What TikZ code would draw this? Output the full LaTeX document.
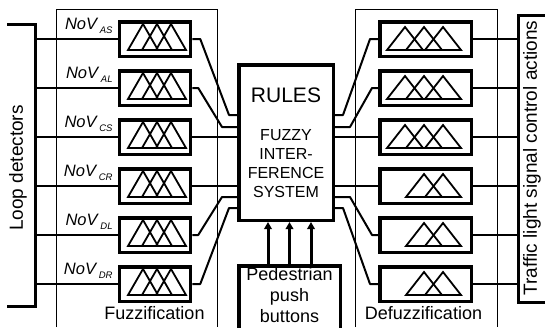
\documentclass[tikz,border=0pt]{standalone}
\usepackage{fontspec}
\setmainfont{Liberation Sans}
\usetikzlibrary{arrows.meta,positioning,calc}

\newcommand\novlabel[1]{{\itshape NoV\,\raisebox{-0.5ex}{\fontsize{9.5}{9.5}\selectfont #1}}}

\begin{document}
\begin{tikzpicture}[x=1pt,y=-1pt,
  fzbox/.style={draw,line width=3.5pt,minimum width=71pt,minimum height=34.5pt,inner sep=0pt},
  dzbox/.style={fzbox,minimum width=91.5pt},
  link/.style={line width=2pt,line join=round},
  bus/.style={line width=3pt},
  tri/.style={line width=1.8pt},
  frame/.style={line width=0.8pt},
  lbl/.style={font=\fontsize{18}{21}\selectfont,inner sep=0pt},
  side/.style={font=\fontsize{19}{21}\selectfont,inner sep=0pt,rotate=90},
  pedarrow/.style={line width=3pt,-{Triangle[length=7pt,width=7.5pt]}}]
\useasboundingbox (0,0) rectangle (545,327);
% ---------- frames and buses ----------
\draw[frame] (56,327) -- (56,9) -- (217,9) -- (217,327);
\draw[frame] (355,327) -- (355,9) -- (497,9) -- (497,327);
\draw[bus] (7,24) -- (35,24) -- (35,306) -- (7,306);
\draw[bus] (545,15) -- (518,15) -- (518,302) -- (545,302);
\coordinate (lbus) at (35,0);
\coordinate (rbus) at (518,0);
\node[side] (loopdet) at (18,168) {Loop detectors};
\node[side] (actions) at (532,158) {Traffic light signal control actions};
\node[lbl] (fuzzlab) at (154.5,313) {Fuzzification};
\node[lbl] (defuzzlab) at (423.5,313) {Defuzzification};
% ---------- fuzzification / defuzzification rows ----------
\foreach \i/\lab in {1/AS,2/AL,3/CS,4/CR,5/DL,6/DR} {
  \pgfmathsetmacro\yc{39+49*(\i-1)}
  \node[fzbox] (fz\i) at (155,\yc) {};
  \node[dzbox] (dz\i) at (425.5,\yc) {};
  \node[font=\fontsize{16.5}{16.5}\selectfont,inner sep=0pt,anchor=east,
    left=5pt of fz\i.north west,yshift=-6pt] (nov\i) {\novlabel{\lab}};
  \draw[link] (lbus |- fz\i.west) -- (fz\i.west);
  \draw[link] (dz\i.east) -- (rbus |- dz\i.east);
  \foreach \a in {-12,2,16}
    \draw[tri] ([shift={(\a-15,11)}]fz\i.center) -- ++(15,-26) -- ++(15,26) -- cycle;
}
\foreach \i in {1,2,3}
  \foreach \a in {-20.5,-1.5,17.5}
    \draw[tri] ([shift={(\a-18,11)}]dz\i.center) -- ++(18,-23) -- ++(18,23) -- cycle;
\foreach \i in {4,5,6}
  \foreach \a in {-1.5,17.5}
    \draw[tri] ([shift={(\a-18,11)}]dz\i.center) -- ++(18,-23) -- ++(18,23) -- cycle;
% ---------- rules block ----------
\node[draw,line width=3.5pt,minimum width=94.5pt,minimum height=155.5pt] (rules) at (286,142.5) {};
\node[font=\fontsize{21}{25}\selectfont] (rulestitle) at (286,95) {RULES};
\node[font=\fontsize{16}{18}\selectfont,align=center] (fis) at (286,164)
  {FUZZY\\[1pt]INTER-\\[1pt]FERENCE\\[1pt]SYSTEM};
\node[draw,line width=3.5pt,minimum width=101.5pt,minimum height=64pt,inner sep=0pt,
  align=center,font=\fontsize{18}{21}\selectfont] (ped) at (289.5,297.75) {};
\node[font=\fontsize{18}{21}\selectfont,align=center,inner sep=0pt,anchor=north]
  (pedtext) at ([yshift=-3pt]ped.north) {Pedestrian\\push\\buttons};
\foreach \d in {-21.5,0,21.5} {
  \coordinate (pa) at ([xshift=\d pt]ped.north);
  \draw[pedarrow] (pa) -- (pa |- rules.south);
}
% ---------- links to and from the rules ----------
\foreach \i/\ry in {1/115,2/127,5/197,6/208} {
  \coordinate (rin\i) at (rules.west |- 0,\ry);
  \coordinate (rout\i) at (rules.east |- 0,\ry);
}
\foreach \i in {3,4} {
  \coordinate (rin\i) at (rules.west |- fz\i.east);
  \coordinate (rout\i) at (rules.east |- fz\i.east);
}
\foreach \i/\a/\b in {1/8/8,2/6/15,5/6/15,6/8/8} {
  \draw[link] (fz\i.east) -- ++(\a,0) -- ([xshift=-\b pt]rin\i) -- (rin\i);
  \draw[link] (rout\i) -- ++(\b,0) -- ([xshift=-\a pt]dz\i.west) -- (dz\i.west);
}
\foreach \i in {3,4} {
  \draw[link] (fz\i.east) -- (rin\i);
  \draw[link] (rout\i) -- (dz\i.west);
}
\end{tikzpicture}
\end{document}
